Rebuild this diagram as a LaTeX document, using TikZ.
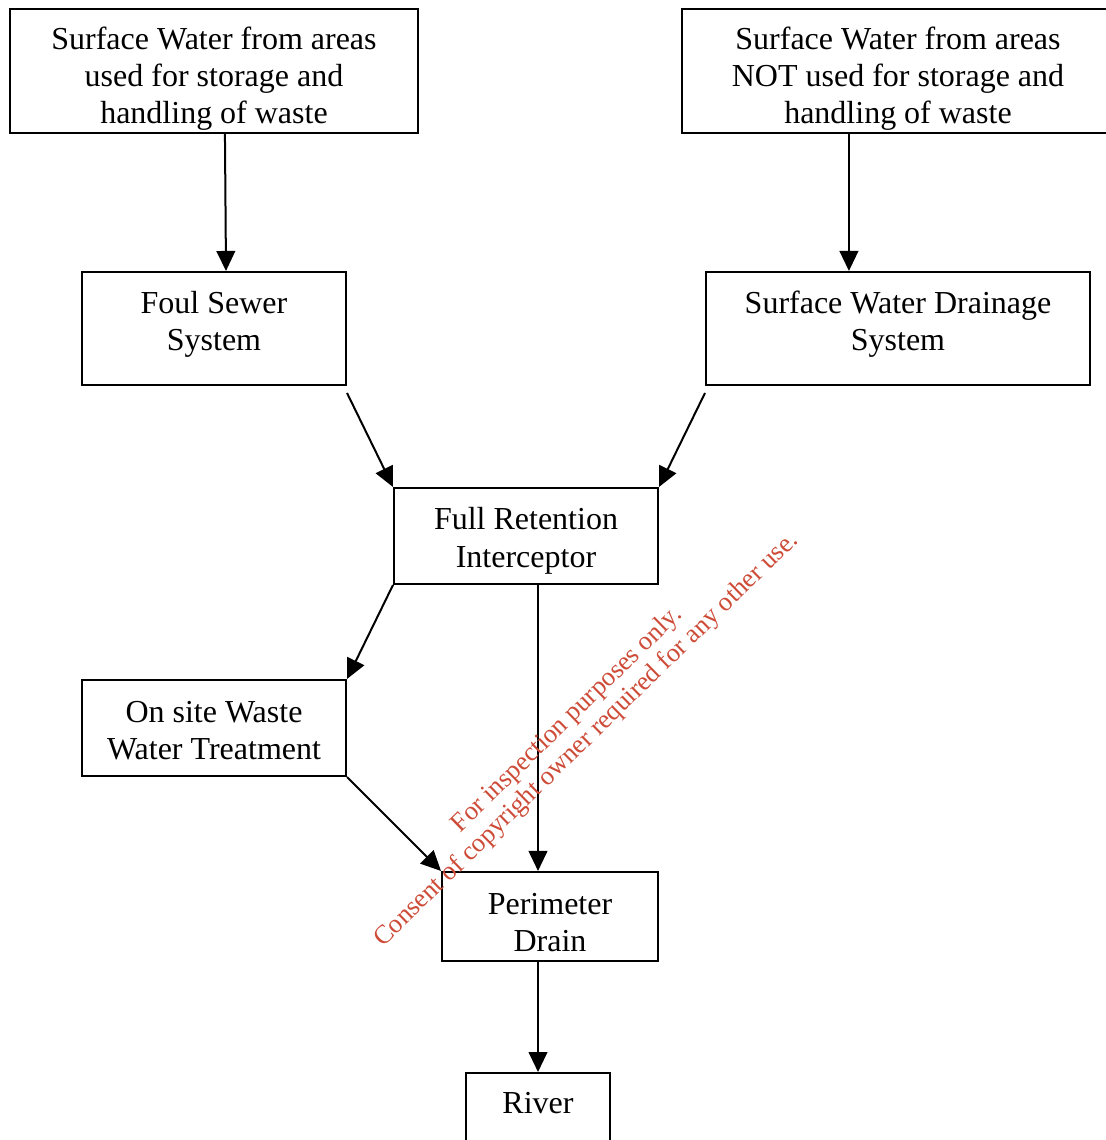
\documentclass[tikz,border=0pt]{standalone}
\usepackage{fontspec}
\setmainfont{Liberation Serif}
\usepackage{tikz}
\usetikzlibrary{positioning,calc,arrows.meta}
\definecolor{stamp}{RGB}{205, 75, 55}

\tikzset{
  box/.style={draw, line width=0.75pt, align=center, inner sep=0pt,
    font=\fontsize{12}{13.9}\selectfont},
  every label/.style={align=center, inner sep=0pt, font=\fontsize{12}{13.9}\selectfont},
  flow/.style={line width=0.75pt, -{Triangle[length=7.5pt, width=7pt]}}
}

\begin{document}
\begin{tikzpicture}[x=0.375pt, y=-0.375pt]
      \useasboundingbox (0,0) rectangle (1105,1140);

      \node[box, minimum width=153pt, minimum height=46.5pt,
        label={[yshift=-2.8pt]center:{Surface Water from areas\\used for storage and\\handling of waste}}] (waste) at (214,71) {};
      \node[box, minimum width=162pt, minimum height=46.5pt,
        label={[yshift=-2.8pt]center:{Surface Water from areas\\NOT used for storage and\\handling of waste}}] (clean) at (898,71) {};

      \node[box, minimum width=99pt, minimum height=42.4pt,
        label={[yshift=1.7pt]center:{Foul Sewer\\System}}] (foul) at (214,328.5) {};
      \node[box, minimum width=144pt, minimum height=42.4pt,
        label={[yshift=1.7pt]center:{Surface Water Drainage\\System}}] (drainage) at (898,328.5) {};

      \node[box, minimum width=99pt, minimum height=36pt,
        label={[yshift=-1.8pt]center:{Full Retention\\Interceptor}}] (interceptor) at (526,536) {};

      \node[box, minimum width=99pt, minimum height=36pt,
        label={[yshift=-1.1pt]center:{On site Waste\\Water Treatment}}] (treatment) at (214,728) {};

      \node[box, minimum width=81pt, minimum height=33.4pt,
        label={[yshift=-2.2pt]center:{Perimeter\\Drain}}] (perimeter) at (550,916.5) {};

      \node[box, anchor=north, minimum width=54pt, text height=15pt, text depth=27pt] (river) at (538,1072)
        {River};

      \draw[flow] ([xshift=4.1pt]waste.south) -- ([xshift=4.5pt]foul.north);
      \draw[flow] ([xshift=-18.4pt]clean.south) -- ([xshift=-18.4pt]drainage.north);

      \draw[flow] ([yshift=-2.6pt]foul.south east) -- (interceptor.north west);
      \draw[flow] ([yshift=-2.6pt]drainage.south west) -- (interceptor.north east);

      \draw[flow] (interceptor.south west) -- (treatment.north east);
      \draw[flow] ([xshift=4.5pt]interceptor.south) -- ([xshift=-4.5pt]perimeter.north);

      \draw[flow] (treatment.south east) -- (perimeter.north west);

      \draw[flow] ([xshift=-4.5pt]perimeter.south) -- (river.north);

      \node[rotate=44.3, text=stamp, align=center, font=\fontsize{9.9}{10.4}\selectfont] (notice) at (577,730)
        {For inspection purposes only.\\Consent of copyright owner required for any other use.};

    \end{tikzpicture}
\end{document}
